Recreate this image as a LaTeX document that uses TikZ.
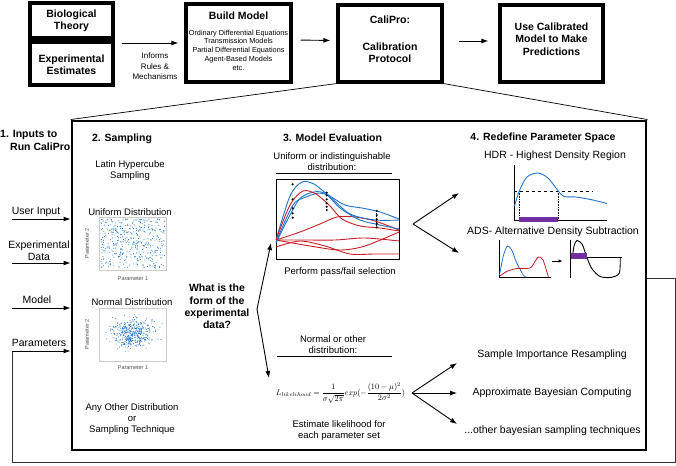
\documentclass[tikz,border=0pt]{standalone}
\usepackage[no-math]{fontspec}
\usepackage{graphicx}
\setmainfont{Liberation Sans}
\usetikzlibrary{arrows.meta,calc}
\definecolor{mblue}{RGB}{30,115,200}
\definecolor{mred}{RGB}{200,30,40}
\definecolor{mpurple}{RGB}{112,48,160}
\definecolor{dotblue}{RGB}{20,110,200}
\tikzset{
 boxnode/.style={draw, line width=3.1pt, inner sep=0pt},
 hb/.style={font=\fontsize{10.5}{12.4}\selectfont\bfseries, align=center, inner sep=0pt},
 tl/.style={font=\fontsize{10.5}{12}\selectfont, align=center, inner sep=0pt},
 tm/.style={font=\fontsize{9.5}{11}\selectfont, align=center, inner sep=0pt},
 ts/.style={font=\fontsize{8}{10.5}\selectfont, align=center, inner sep=0pt},
 tx/.style={font=\fontsize{7.3}{8.8}\selectfont, align=center, inner sep=0pt},
 ax/.style={font=\fontsize{5.5}{6}\selectfont, text=black!70, inner sep=0pt},
 arr/.style={-{Latex[length=7pt,width=5pt]}, line width=0.9pt},
 zline/.style={line width=0.7pt},
 fbline/.style={line width=0.8pt, draw=black!80},
 bcurve/.style={mblue, line width=0.9pt},
 rcurve/.style={mred, line width=0.9pt},
 scbox/.style={draw=black!20, line width=0.4pt, minimum width=67pt, minimum height=53pt, inner sep=0pt},
}
\begin{document}
\begin{tikzpicture}[x=1pt,y=-1pt]
\useasboundingbox (0,0) rectangle (676,465);

% ---------- top row ----------
\node[boxnode, minimum width=83pt, minimum height=35pt] (bio) at (71.5,20.5) {};
\node[hb] (biot) at (71.5,21) {Biological\\Theory};
\node[boxnode, minimum width=83pt, minimum height=43pt] (exp) at (71.5,63.5) {};
\node[hb] (expt) at (71.5,65) {Experimental\\Estimates};
\node[boxnode, minimum width=105pt, minimum height=78pt] (build) at (238.5,43) {};
\node[hb] (buildt) at (238.5,16) {Build Model};
\node[tx] (buildl) at (238.5,50) {Ordinary Differential Equations\\Transmission Models\\Partial Differential Equations\\Agent-Based Models\\etc.};
\node[boxnode, minimum width=104pt, minimum height=77pt] (cali) at (390,43.5) {};
\node[hb] (calit) at (390,20) {CaliPro:};
\node[hb] (calip) at (390,52.5) {Calibration\\Protocol};
\node[boxnode, minimum width=103pt, minimum height=77pt] (use) at (551.5,43.5) {};
\node[hb] (uset) at (551.5,39) {Use Calibrated\\Model to Make\\Predictions};

\draw[arr, shorten <=7pt, shorten >=6pt] (build.west -| exp.east) -- (build.west);
\node[ts] (inf) at (155,66.5) {Informs\\Rules \&\\Mechanisms};
\draw[arr, shorten <=8pt, shorten >=6pt] ([yshift=3pt]build.east) -- ([yshift=3pt]cali.west);
\draw[arr, shorten <=15pt, shorten >=10pt] ([yshift=2.5pt]cali.east) -- ([yshift=2.5pt]use.west);

% ---------- zoom lines and big box ----------
\node[boxnode, line width=2.9pt, minimum width=574pt, minimum height=329pt] (big) at (359,285.5) {};
\draw[zline] (cali.south west) -- (big.north west);
\draw[zline] (cali.south east) -- (big.north east);

% ---------- headers ----------
\node[hb, align=left, anchor=west] (h1) at (0,140.5) {1. Inputs to\\\hspace*{10pt}Run CaliPro};
\node[hb] (h2) at (122,139) {2. Sampling};
\node[hb] (h3) at (332.5,138) {3. Model Evaluation};
\node[hb] (h4) at (543,138) {4. Redefine Parameter Space};

% ---------- inputs ----------
\node[tl] (uin) at (36,212) {User Input};
\coordinate (uia) at (12,219);
\draw[arr] (uia) -- (uia -| big.west);
\node[tl] (edat) at (39,251) {Experimental\\Data};
\coordinate (eda) at (12,263);
\draw[arr] (eda) -- (eda -| big.west);
\node[tl] (mdl) at (37,300) {Model};
\coordinate (mda) at (12,308);
\draw[arr] (mda) -- (mda -| big.west);
\node[tl] (par) at (39,343) {Parameters};

% feedback loop
\coordinate (fb1) at (675,278);
\coordinate (fb2) at (675,462);
\coordinate (fb3) at (12,462);
\coordinate (fb4) at (12,351);
\draw[fbline] (fb1 -| big.east) -- (fb1) -- (fb2) -- (fb3) -- (fb4);
\draw[arr] (fb4) -- (fb4 -| big.west);

% ---------- sampling ----------
\node[tm] (lhs) at (130,170.5) {Latin Hypercube\\Sampling};
\node[tm] (unit) at (130,212) {Uniform Distribution};
\node[scbox] (sc1) at (133,243.5) {};
\node[ax, rotate=90] (sc1y) at (87,243.5) {Parameter 2};
\node[ax] (sc1x) at (133,279) {Parameter 1};
\node[tm] (nort) at (132,302) {Normal Distribution};
\node[scbox] (sc2) at (133,334.5) {};
\node[ax, rotate=90] (sc2y) at (87,334.5) {Parameter 2};
\node[ax] (sc2x) at (133,368) {Parameter 1};
\node[tm] (oth) at (132,419) {Any Other Distribution\\or\\Sampling Technique};

\pgfmathsetseed{11}
\foreach \i in {1,...,430}{
  \pgfmathsetmacro{\px}{101+64*rnd}
  \pgfmathsetmacro{\py}{219+49*rnd}
  \fill[dotblue] (\px,\py) circle (0.5);
}
\begin{scope}
\clip (sc2.south west) rectangle (sc2.north east);
\foreach \i in {1,...,420}{
  \pgfmathsetmacro{\px}{133+17*(rnd+rnd+rnd+rnd-2)}
  \pgfmathsetmacro{\py}{333+13*(rnd+rnd+rnd+rnd-2)}
  \fill[dotblue] (\px,\py) circle (0.5);
}
\end{scope}

% ---------- question ----------
\node[hb] (q) at (217,306.5) {What is the\\form of the\\experimental\\data?};
\coordinate (v1) at (257,309);
\coordinate (t1) at (271,243);
\coordinate (t2) at (269,378);
\draw[arr] (v1) -- (t1);
\draw[arr] (v1) -- (t2);

% ---------- model evaluation ----------
\node[tm] (uni) at (332,161.5) {Uniform or indistinguishable\\distribution:};
\draw[zline] (276,173) -- (392,173);
\node[draw, line width=0.9pt, minimum width=123pt, minimum height=80pt, inner sep=0pt] (plot) at (337.5,219) {};
\begin{scope}
\clip (plot.south west) rectangle (plot.north east);
\draw[rcurve] plot[smooth] coordinates {(276,240) (300,232) (320,224) (337,217) (355,217) (375,221) (399,230)};
\draw[rcurve] plot[smooth] coordinates {(276,240) (305,240) (335,240) (365,238) (399,241)};
\draw[rcurve] plot[smooth] coordinates {(276,247) (300,241) (325,246) (350,254) (375,254) (399,254)};
\draw[rcurve] plot[smooth] coordinates {(276,240) (310,246) (340,250) (365,246) (399,232)};
\draw[bcurve] plot[smooth] coordinates {(276,240) (290,196) (302,182) (314,184) (327,194) (345,205) (362,208) (380,212) (399,219)};
\draw[bcurve] plot[smooth] coordinates {(276,242) (293,205) (306,197) (320,193) (330,197) (350,214) (375,220) (399,220)};
\draw[bcurve] plot[smooth] coordinates {(276,243) (298,201) (314,192) (326,194) (340,208) (360,220) (380,225) (399,229)};
\draw[rcurve] plot[smooth] coordinates {(276,240) (290,205) (303,191) (316,194) (330,206) (342,219) (360,226) (380,228) (399,231)};
\end{scope}
\foreach \yy in {184.3,199.3,208.3,213.3,217.7} \fill (292.7,\yy) circle (1.2);
\foreach \yy in {192.7,195.5,199.3,203.3,206.7,210} \fill (326.7,\yy) circle (1.2);
\foreach \yy in {211,215,219.3,223.3,227.3} \fill (376.7,\yy) circle (1.2);
\draw[densely dotted, line width=0.8pt] (376.7,211) -- (376.7,227.3);
\node[tm] (pf) at (340,272) {Perform pass/fail selection};

\node[tm] (nod) at (333,344.5) {Normal or other\\distribution:};
\draw[zline] (277,356) -- (392,356);
\node[inner sep=0pt] (form) at (340.5,393) {\resizebox{129pt}{!}{$\displaystyle L_{likelihood}=\frac{1}{\sigma\sqrt{2\pi}}exp(-\frac{(10-\mu)^2}{2\sigma^2})$}};
\node[tm] (est) at (339,430.5) {Estimate likelihood for\\each parameter set};

% ---------- right: bayesian ----------
\node[tl] (sir) at (552,355) {Sample Importance Resampling};
\node[tl] (abc) at (552,393) {Approximate Bayesian Computing};
\node[tl] (obs) at (552.5,431) {...other bayesian sampling techniques};
\coordinate (v3) at (412,393);
\coordinate (t5) at (457,363);
\coordinate (t6) at (457,393);
\coordinate (t7) at (457,424);
\draw[arr] (v3) -- (t5);
\draw[arr] (v3) -- (t6);
\draw[arr] (v3) -- (t7);

% ---------- redefine ----------
\coordinate (v2) at (413,224);
\coordinate (t3) at (459,193);
\coordinate (t4) at (459,253);
\draw[arr] (v2) -- (t3);
\draw[arr] (v2) -- (t4);

\node[tl] (hdr) at (555,156) {HDR - Highest Density Region};
\draw[line width=0.8pt] (514,165) -- (514,220) -- (607,220);
\draw[dashed, line width=0.7pt] (514,191) -- (593,191);
\draw[densely dotted, line width=0.6pt] (519.3,191) -- (519.3,220);
\draw[densely dotted, line width=0.6pt] (558.3,191) -- (558.3,220);
\draw[bcurve] plot[smooth] coordinates {(514.5,206) (519.3,191) (527,177) (538,173) (548,178) (558.3,191) (564,196.5) (576,197) (593,200) (607,203.5)};
\fill[mpurple] (519.3,217.3) rectangle (558.3,222);

\node[tl] (ads) at (553,232) {ADS- Alternative Density Subtraction};
\draw[line width=0.9pt] (499.3,240) -- (499.3,277) -- (551,277);
\draw[mblue, line width=0.8pt] plot[smooth] coordinates {(499.5,275) (503.3,256) (507.3,246) (511.7,250) (516.7,263) (523.3,275) (526,277)};
\draw[mred, line width=0.8pt] plot[smooth] coordinates {(500,276) (506.7,271.5) (516.7,268.5) (530,268) (535,261.5) (538.5,257) (543,260) (548.3,276.7)};
\draw[-{Latex[length=4pt,width=3.5pt]}, line width=0.8pt] (552,261) -- (562.5,261);
\draw[line width=1.5pt] (570.7,240) -- (570.7,278.3);
\draw[line width=1.2pt] (570.7,257.7) -- (621.7,257.7);
\draw[line width=0.9pt] plot[smooth] coordinates {(572.5,257) (574,246) (577,240.5) (582,244) (585,252) (587,257.7) (591.7,268.3) (600,276.5) (611.7,277.3) (619.3,273) (620.2,258)};
\fill[mpurple] (570.7,253.3) rectangle (586.7,259);
\end{tikzpicture}
\end{document}
